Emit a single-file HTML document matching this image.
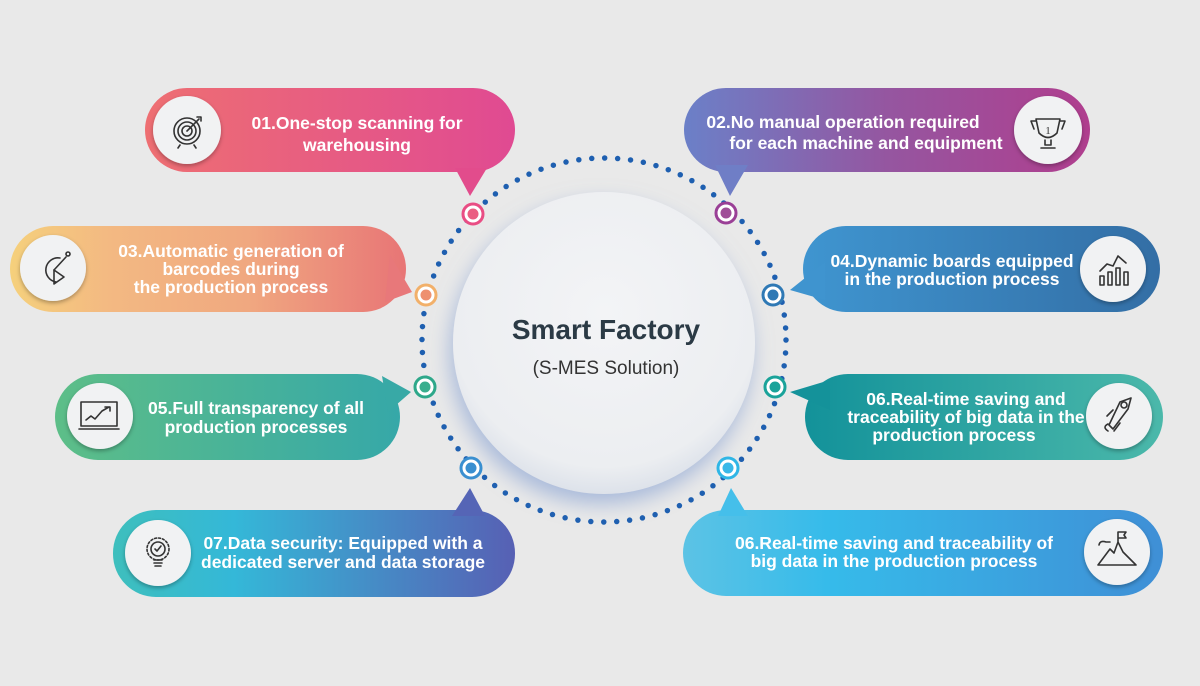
<!DOCTYPE html>
<html><head><meta charset="utf-8"><style>
html,body{margin:0;padding:0;background:#e9e9e9;}
svg{display:block;font-family:"Liberation Sans",Arial,sans-serif;}
.t{fill:#fff;font-weight:bold;font-size:17.5px;text-anchor:middle;}
.ic{fill:none;stroke:#333;stroke-width:1.6;stroke-linecap:round;stroke-linejoin:round;}
</style></head><body>
<svg width="1200" height="686" viewBox="0 0 1200 686">
<defs>
<linearGradient id="g1" x1="0" x2="1"><stop offset="0" stop-color="#ee6f72"/><stop offset="1" stop-color="#e04a92"/></linearGradient>
<linearGradient id="g2" x1="0" x2="1"><stop offset="0" stop-color="#6b80c8"/><stop offset="0.5" stop-color="#9556a0"/><stop offset="1" stop-color="#b03e8e"/></linearGradient>
<linearGradient id="g3" x1="0" x2="1"><stop offset="0" stop-color="#f5d07c"/><stop offset="0.25" stop-color="#f3b982"/><stop offset="0.6" stop-color="#f0a880"/><stop offset="1" stop-color="#e87576"/></linearGradient>
<linearGradient id="g4" x1="0" x2="1"><stop offset="0" stop-color="#3f95d0"/><stop offset="1" stop-color="#336ea5"/></linearGradient>
<linearGradient id="g5" x1="0" x2="1"><stop offset="0" stop-color="#5dbe88"/><stop offset="1" stop-color="#36a8a8"/></linearGradient>
<linearGradient id="g6" x1="0" x2="1"><stop offset="0" stop-color="#13929a"/><stop offset="1" stop-color="#4bb8aa"/></linearGradient>
<linearGradient id="g7" x1="0" x2="1"><stop offset="0" stop-color="#3ebfbd"/><stop offset="0.3" stop-color="#34b8d8"/><stop offset="1" stop-color="#5760b4"/></linearGradient>
<linearGradient id="g8" x1="0" x2="1"><stop offset="0" stop-color="#5cc3e5"/><stop offset="0.3" stop-color="#36bbea"/><stop offset="1" stop-color="#3f8fd6"/></linearGradient>
<radialGradient id="cg" cx="0.5" cy="0.4" r="0.6"><stop offset="0" stop-color="#f3f4f6"/><stop offset="0.85" stop-color="#eceef1"/><stop offset="1" stop-color="#dde2ea"/></radialGradient>
<filter id="sh" x="-30%" y="-30%" width="160%" height="170%"><feDropShadow dx="-3" dy="10" stdDeviation="10" flood-color="#7f9bd0" flood-opacity="0.6"/></filter>
<filter id="ish" x="-30%" y="-30%" width="160%" height="160%"><feDropShadow dx="0" dy="2" stdDeviation="2" flood-color="#000" flood-opacity="0.3"/></filter>
</defs>

<circle cx="604" cy="340" r="182" fill="none" stroke="#1e5fb0" stroke-width="5.5" stroke-linecap="round" stroke-dasharray="0 13"/>
<circle cx="604" cy="343" r="151" fill="url(#cg)" filter="url(#sh)"/>
<text x="606" y="339" text-anchor="middle" font-size="28" font-weight="bold" fill="#2b3a45">Smart Factory</text>
<text x="606" y="374" text-anchor="middle" font-size="19" fill="#333">(S-MES Solution)</text>

<!-- pill 1 -->
<rect x="145" y="88" width="370" height="84" rx="42" fill="url(#g1)"/>
<polygon points="455,168 487,168 470,196" fill="#e24c8c"/>
<circle cx="187" cy="130" r="34" fill="#f1f2f3" filter="url(#ish)"/>
<g class="ic"><circle cx="187" cy="131" r="13"/><circle cx="187" cy="131" r="9"/><circle cx="187" cy="131" r="5"/><path d="M187 131 L199 119 M197 117 L201 117 L201 121 M180 145 L178 148 M194 145 L196 148"/></g>
<text class="t" x="357" y="129">01.One-stop scanning for</text>
<text class="t" x="357" y="151">warehousing</text>

<!-- pill 2 -->
<rect x="684" y="88" width="406" height="84" rx="42" fill="url(#g2)"/>
<polygon points="715,165 748,165 730,196" fill="#6f7ec6"/>
<circle cx="1048" cy="130" r="34" fill="#f1f2f3" filter="url(#ish)"/>
<g class="ic"><path d="M1036 119 H1060 L1057 133 Q1048 142 1039 133 Z M1036 121 H1031 L1034 129 M1060 121 H1065 L1062 129 M1045 140 V145 H1051 V140 M1041 148 H1055"/><text x="1048" y="134" font-size="11" fill="#333" stroke="none" text-anchor="middle" font-family="Liberation Serif">1</text></g>
<text class="t" x="843" y="128">02.No manual operation required</text>
<text class="t" x="866" y="149">for each machine and equipment</text>

<!-- pill 3 -->
<rect x="10" y="226" width="396" height="86" rx="43" fill="url(#g3)"/>
<polygon points="390,255 412,292 385,302" fill="#e8787a"/>
<circle cx="53" cy="268" r="33" fill="#f1f2f3" filter="url(#ish)"/>
<g class="ic"><path d="M60 258 A12 12 0 1 0 56 282"/><path d="M54 270 L66 257"/><circle cx="68" cy="254" r="2"/><path d="M54 270 V284 L64 277 Z"/></g>
<text class="t" x="231" y="257">03.Automatic generation of</text>
<text class="t" x="231" y="275">barcodes during</text>
<text class="t" x="231" y="293">the production process</text>

<!-- pill 4 -->
<rect x="803" y="226" width="357" height="86" rx="43" fill="url(#g4)"/>
<polygon points="825,262 825,300 790,290" fill="#3f94cf"/>
<circle cx="1113" cy="269" r="33" fill="#f1f2f3" filter="url(#ish)"/>
<g class="ic"><path d="M1100 285 V276 H1104 V285 Z M1108 285 V272 H1112 V285 Z M1116 285 V268 H1120 V285 Z M1124 285 V272 H1128 V285 Z M1100 271 L1107 264 L1113 266 L1118 256 L1126 263"/></g>
<text class="t" x="952" y="267">04.Dynamic boards equipped</text>
<text class="t" x="952" y="285">in the production process</text>

<!-- pill 5 -->
<rect x="55" y="374" width="345" height="86" rx="43" fill="url(#g5)"/>
<polygon points="382,376 411,392 388,412" fill="#38a9a6"/>
<circle cx="100" cy="416" r="33" fill="#f1f2f3" filter="url(#ish)"/>
<g class="ic"><rect x="81" y="402" width="36" height="24"/><path d="M79 429 H119 M86 420 L91 416 L95 419 L102 411 L109 407 M105 407 H110 V411"/></g>
<text class="t" x="256" y="414">05.Full transparency of all</text>
<text class="t" x="256" y="433">production processes</text>

<!-- pill 6 -->
<rect x="805" y="374" width="358" height="86" rx="43" fill="url(#g6)"/>
<polygon points="830,380 830,410 790,392" fill="#14929a"/>
<circle cx="1119" cy="416" r="33" fill="#f1f2f3" filter="url(#ish)"/>
<g class="ic"><path d="M1109 425 L1120 402 L1131 398 L1128 409 L1113 429 Z"/><circle cx="1124" cy="405" r="3"/><path d="M1107 416 L1113 410 M1114 431 L1120 423 M1108 431 Q1102 427 1108 424"/></g>
<text class="t" x="966" y="405">06.Real-time saving and</text>
<text class="t" x="966" y="423">traceability of big data in the</text>
<text class="t" x="954" y="441">production process</text>

<!-- pill 7 -->
<rect x="113" y="510" width="402" height="87" rx="43" fill="url(#g7)"/>
<polygon points="452,516 485,516 470,488" fill="#5565b6"/>
<circle cx="158" cy="553" r="33" fill="#f1f2f3" filter="url(#ish)"/>
<g class="ic"><circle cx="158" cy="549" r="11" stroke-dasharray="2 2"/><circle cx="158" cy="549" r="7"/><path d="M155 549 L157 551 L161 546 M154 560 H162 M154 563 H162 M155 566 H161"/></g>
<text class="t" x="343" y="549">07.Data security: Equipped with a</text>
<text class="t" x="343" y="568">dedicated server and data storage</text>

<!-- pill 8 -->
<rect x="683" y="510" width="480" height="86" rx="43" fill="url(#g8)"/>
<polygon points="718,516 748,516 731,488" fill="#45bfea"/>
<circle cx="1117" cy="552" r="33" fill="#f1f2f3" filter="url(#ish)"/>
<g class="ic"><path d="M1098 565 L1110 549 L1114 553 L1118 542 L1123 552 L1136 565 Z M1118 542 V532 H1126 L1124 535 L1126 538 H1118 M1099 545 Q1100 540 1106 542 H1110"/></g>
<text class="t" x="894" y="549">06.Real-time saving and traceability of</text>
<text class="t" x="894" y="567">big data in the production process</text>

<g stroke-width="3" fill="#fff">
<circle cx="473" cy="214" r="10" stroke="#e94d84"/><circle cx="473" cy="214" r="5.5" fill="#ea5e82" stroke="none"/>
<circle cx="726" cy="213" r="10" stroke="#9a3f96"/><circle cx="726" cy="213" r="5.5" fill="#a04e98" stroke="none"/>
<circle cx="426" cy="295" r="10" stroke="#f2b06a"/><circle cx="426" cy="295" r="5.5" fill="#ee9070" stroke="none"/>
<circle cx="773" cy="295" r="10" stroke="#2f79b5"/><circle cx="773" cy="295" r="5.5" fill="#2f79b5" stroke="none"/>
<circle cx="425" cy="387" r="10" stroke="#2ea88a"/><circle cx="425" cy="387" r="5.5" fill="#3aae8e" stroke="none"/>
<circle cx="775" cy="387" r="10" stroke="#1aa39a"/><circle cx="775" cy="387" r="5.5" fill="#1aa39a" stroke="none"/>
<circle cx="471" cy="468" r="10" stroke="#3a8fd0"/><circle cx="471" cy="468" r="5.5" fill="#3a8fd0" stroke="none"/>
<circle cx="728" cy="468" r="10" stroke="#2fb6e6"/><circle cx="728" cy="468" r="5.5" fill="#3ab8e8" stroke="none"/>
</g>
</svg>
</body></html>
